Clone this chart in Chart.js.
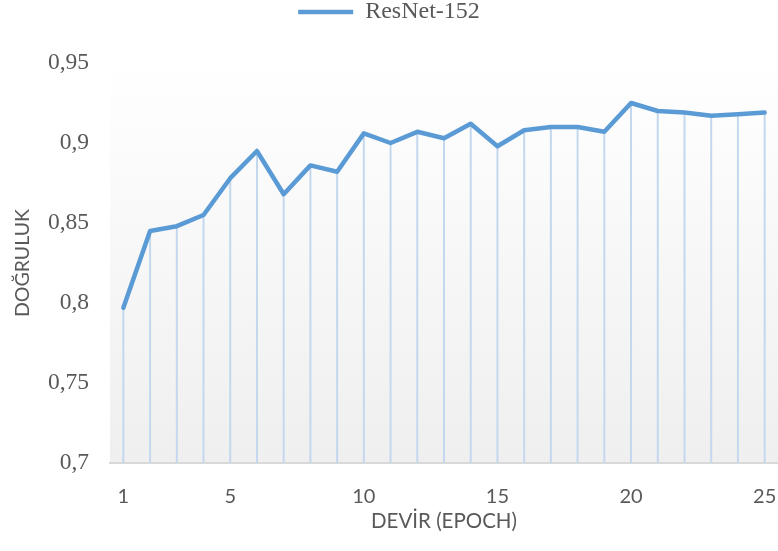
<!DOCTYPE html>
<html>
<head>
<meta charset="utf-8">
<script src="https://cdn.jsdelivr.net/npm/chart.js@4/dist/chart.umd.min.js"></script>
<style>
  html, body { margin: 0; padding: 0; background: #fff; }
  #wrap { width: 778px; height: 551px; position: relative; }
</style>
</head>
<body>
<div id="wrap"><canvas id="accChart"></canvas></div>
<script>
const epochs = [
  "1", "2", "3", "4", "5", "6", "7", "8", "9", "10", "11", "12", "13",
  "14", "15", "16", "17", "18", "19", "20", "21", "22", "23", "24", "25",
];
const shownEpochs = ["1", "5", "10", "15", "20", "25"];
const resnet152 = [
  0.797, 0.845, 0.848, 0.855, 0.878, 0.895, 0.868, 0.886, 0.882, 0.906,
  0.9, 0.907, 0.903, 0.912, 0.898, 0.908, 0.91, 0.91, 0.907, 0.925, 0.92,
  0.919, 0.917, 0.918, 0.919,
];
const seriesName = "ResNet-152";
const yTitle = "DOĞRULUK";
const xTitle = "DEVİR (EPOCH)";

const lineColor = "#5b9bd5";
const dropColor = "#c3d8ee";
const textColor = "#595959";
const serif = "'Liberation Serif', 'Times New Roman', serif";
const sans = "Lato, 'Open Sans', sans-serif";

// plot area background: white at top fading to light gray
const plotBackground = {
  id: "plotBackground",
  beforeDraw(chart) {
    const { ctx, chartArea } = chart;
    const g = ctx.createLinearGradient(0, chartArea.top, 0, chartArea.bottom);
    g.addColorStop(0, "#ffffff");
    g.addColorStop(1, "#efefef");
    ctx.save();
    ctx.fillStyle = g;
    ctx.fillRect(chartArea.left, chartArea.top,
      chartArea.right - chartArea.left, chartArea.bottom - chartArea.top);
    ctx.restore();
  },
};

// vertical drop lines from every point down to the x axis
const dropLines = {
  id: "dropLines",
  beforeDatasetsDraw(chart) {
    const { ctx, chartArea } = chart;
    const meta = chart.getDatasetMeta(0);
    ctx.save();
    ctx.strokeStyle = dropColor;
    ctx.lineWidth = 2;
    meta.data.forEach((pt) => {
      ctx.beginPath();
      ctx.moveTo(pt.x, pt.y);
      ctx.lineTo(pt.x, chartArea.bottom);
      ctx.stroke();
    });
    ctx.restore();
  },
};

// extra space below the legend
const legendGap = {
  id: "legendGap",
  beforeInit(chart) {
    const fit = chart.legend.fit;
    chart.legend.fit = function () {
      fit.bind(chart.legend)();
      this.height += 29;
    };
  },
};

new Chart(document.getElementById("accChart"), {
  type: "line",
  data: {
    labels: epochs,
    datasets: [
      {
        label: seriesName,
        data: resnet152,
        borderColor: lineColor,
        backgroundColor: lineColor,
        borderWidth: 4.5,
        pointRadius: 0,
        tension: 0,
        borderJoinStyle: "round",
        borderCapStyle: "round",
      },
    ],
  },
  options: {
    responsive: true,
    maintainAspectRatio: false,
    animation: false,
    layout: { padding: { top: 0, right: 0, bottom: 0, left: 0 } },
    plugins: {
      tooltip: { enabled: false },
      legend: {
        position: "top",
        labels: {
          usePointStyle: true,
          pointStyle: "line",
          pointStyleWidth: 55,
          boxHeight: 4,
          padding: 0,
          color: textColor,
          font: { family: serif, size: 24 },
        },
      },
    },
    scales: {
      x: {
        offset: true,
        grid: { display: false, drawTicks: false },
        border: { display: true, color: "#d9d9d9", width: 2 },
        ticks: {
          autoSkip: false,
          maxRotation: 0,
          padding: 22,
          color: textColor,
          font: { family: sans, size: 20 },
          callback: function (value) {
            const lbl = this.getLabelForValue(value);
            return shownEpochs.includes(lbl) ? lbl : "";
          },
        },
        title: {
          display: true,
          text: xTitle,
          color: textColor,
          font: { family: sans, size: 20.5 },
          padding: { top: 0, bottom: 17 },
        },
        afterFit(scale) {
          scale.height = 88;
          scale.paddingLeft = 0;
          scale.paddingRight = 0;
        },
      },
      y: {
        min: 0.7,
        max: 0.95,
        grid: { display: false, drawTicks: false },
        border: { display: false },
        ticks: {
          stepSize: 0.05,
          padding: 21,
          color: textColor,
          font: { family: serif, size: 23.5 },
          callback: (v) => String(Math.round(v * 100) / 100).replace(".", ","),
        },
        title: {
          display: true,
          text: yTitle,
          color: textColor,
          font: { family: sans, size: 19.5 },
          padding: { top: 11, bottom: 0 },
        },
        afterFit(scale) {
          scale.width = 110;
          scale.paddingTop = 0;
          scale.paddingBottom = 0;
        },
      },
    },
  },
  plugins: [plotBackground, dropLines, legendGap],
});
</script>
</body>
</html>
